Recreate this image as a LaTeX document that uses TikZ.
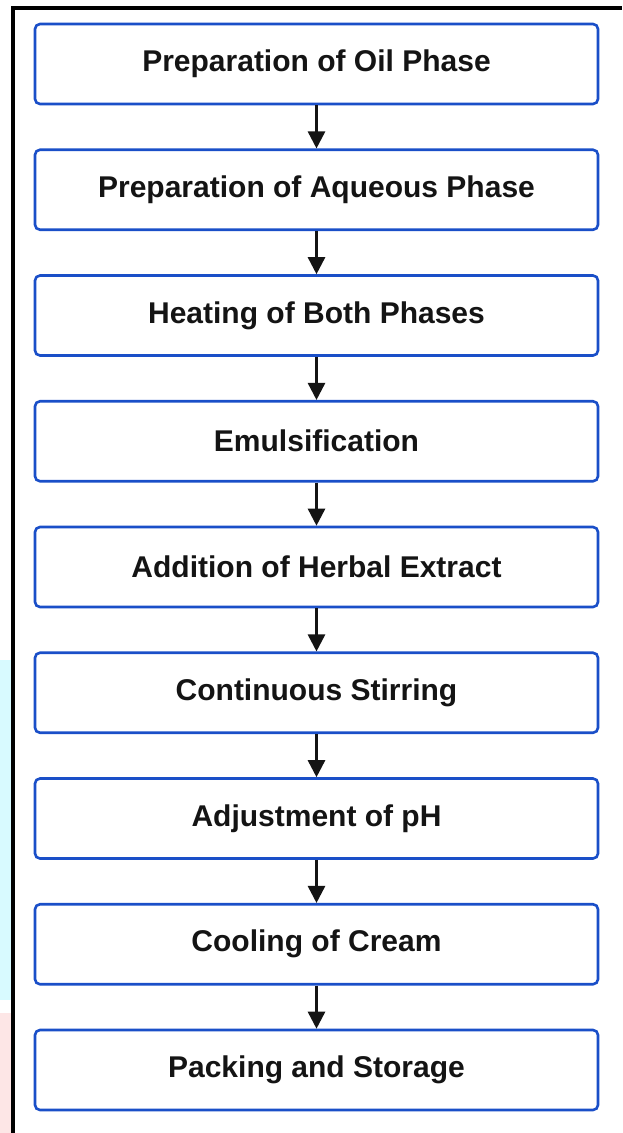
\documentclass[tikz,border=0pt]{standalone}
\usepackage{fontspec}
\setmainfont{Liberation Sans}
\usetikzlibrary{arrows.meta}
\definecolor{boxblue}{HTML}{1A4FC8}
\definecolor{wmcyan}{HTML}{D8FAFF}
\definecolor{wmpink}{HTML}{FDE6E6}
\begin{document}
\begin{tikzpicture}[x=1pt,y=-1pt,
  stepbox/.style={draw=boxblue, line width=2.6pt, rounded corners=5pt,
    minimum width=563pt, minimum height=80pt, inner sep=0pt,
    font=\fontsize{30}{34}\selectfont\bfseries, text=black!92},
  flowarrow/.style={draw=black!92, line width=2.6pt, -{Triangle[length=17pt,width=17pt]}}]
\useasboundingbox (0,0) rectangle (622,1133);
\fill[white] (0,0) rectangle (622,1133);
% faint strip at left edge
\fill[wmcyan] (0,660) rectangle (11,1000);
\fill[wmpink] (0,1013) rectangle (11,1133);
% frame
\draw[line width=4pt, black] (13,1133) -- (13,8) -- (622,8);
% steps
\node[stepbox] (s1) at (316.5,64) {Preparation of Oil Phase};
\node[stepbox] (s2) at (316.5,189.75) {Preparation of Aqueous Phase};
\node[stepbox] (s3) at (316.5,315.5) {Heating of Both Phases};
\node[stepbox] (s4) at (316.5,441.25) {Emulsification};
\node[stepbox] (s5) at (316.5,567) {Addition of Herbal Extract};
\node[stepbox] (s6) at (316.5,692.75) {Continuous Stirring};
\node[stepbox] (s7) at (316.5,818.5) {Adjustment of pH};
\node[stepbox] (s8) at (316.5,944.25) {Cooling of Cream};
\node[stepbox] (s9) at (316.5,1070) {Packing and Storage};
\foreach \a/\b in {s1/s2,s2/s3,s3/s4,s4/s5,s5/s6,s6/s7,s7/s8,s8/s9}
  \draw[flowarrow] (\a.south) -- (\b.north);
\end{tikzpicture}
\end{document}
